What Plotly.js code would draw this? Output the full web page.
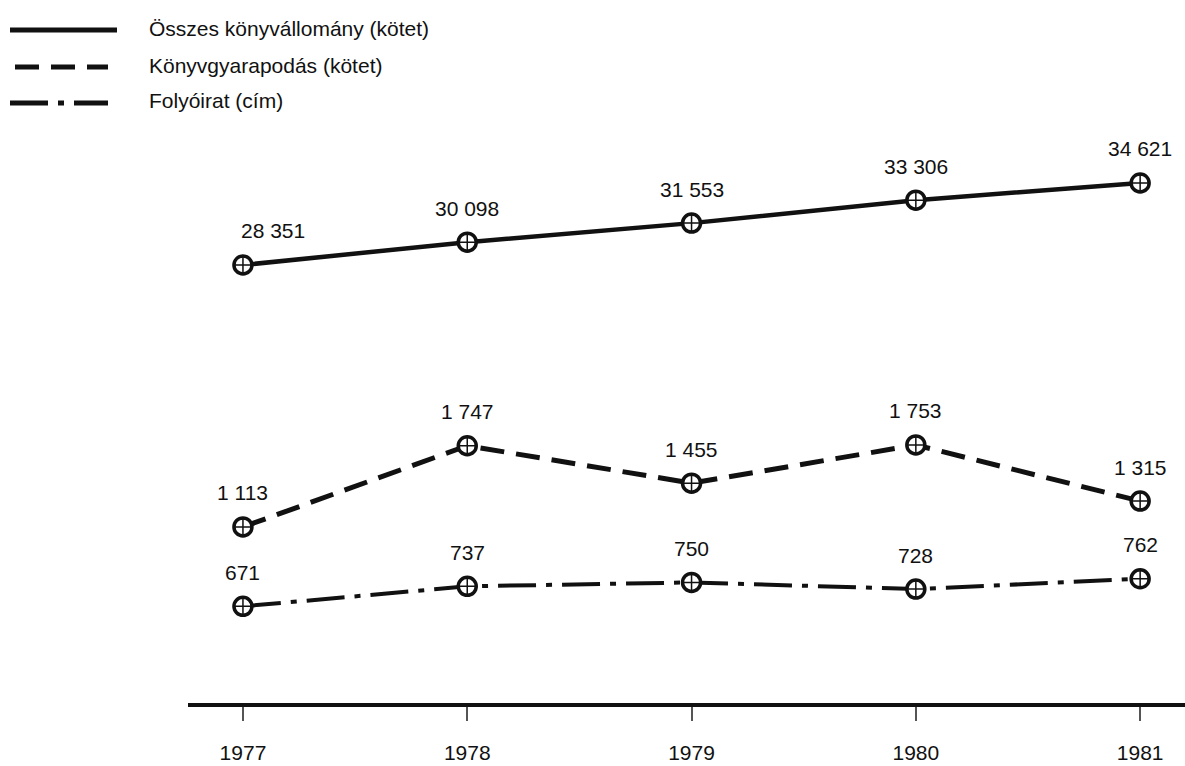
<!DOCTYPE html>
<html>
<head>
<meta charset="utf-8">
<script src="https://cdn.plot.ly/plotly-3.0.1.min.js"></script>
<style>html,body{margin:0;padding:0;background:#fff;}#chart{width:1185px;height:766px;}</style>
</head>
<body>
<div id="chart"></div>
<script>
const years = [1977, 1978, 1979, 1980, 1981];
const konyvallomany = [28351, 30098, 31553, 33306, 34621];
const gyarapodas = [1113, 1747, 1455, 1753, 1315];
const folyoirat = [671, 737, 750, 728, 762];
const seriesNames = ['Összes könyvállomány (kötet)', 'Könyvgyarapodás (kötet)', 'Folyóirat (cím)'];

const FONT = 'Liberation Sans, Arial, sans-serif';
const INK = '#111';
const dashes = ['solid', '24px,12px', '38px,10px,6px,10px'];
const widths = [4.5, 5, 4];
const axes = ['y', 'y2', 'y3'];
const series = [konyvallomany, gyarapodas, folyoirat];

const data = [];
series.forEach((vals, i) => {
  // line with ring markers
  data.push({
    x: years, y: vals, name: seriesNames[i], yaxis: axes[i], showlegend: false,
    type: 'scatter', mode: 'lines+markers',
    line: {color: INK, width: widths[i], dash: dashes[i]},
    marker: {symbol: 'circle', size: 18, color: '#fff', line: {width: 3.5, color: INK}},
    cliponaxis: false
  });
  // thin cross inside the rings
  data.push({
    x: years, y: vals, yaxis: axes[i], showlegend: false, hoverinfo: 'skip',
    type: 'scatter', mode: 'markers',
    marker: {symbol: 'cross-thin-open', size: 12, color: INK, line: {width: 1.5, color: INK}},
    cliponaxis: false
  });
});

// value labels
const annotations = [];
series.forEach((vals, i) => {
  vals.forEach((v, j) => {
    annotations.push({
      x: years[j], y: v, xref: 'x', yref: axes[i],
      text: v.toLocaleString('en-US').replace(/,/g, ' '),
      showarrow: false, yshift: 34, xshift: (i === 0 && j === 0) ? 30 : 0,
      font: {family: FONT, size: 21, color: INK}
    });
  });
});

// legend (drawn manually to match the original's layout)
const L = 188, W = 997, H = 703;
const px = v => (v - L) / W;
const py = v => (H - v) / H;
const legendRows = [30, 67, 103];
const legendLine = [[10, 117], [15, 108], [10, 108]];
const shapes = [];
seriesNames.forEach((name, i) => {
  shapes.push({
    type: 'line', xref: 'paper', yref: 'paper',
    x0: px(legendLine[i][0]), x1: px(legendLine[i][1]),
    y0: py(legendRows[i]), y1: py(legendRows[i]),
    line: {color: INK, width: 5, dash: dashes[i]}
  });
  annotations.push({
    xref: 'paper', yref: 'paper', x: px(147), y: py(legendRows[i] - 2),
    xanchor: 'left', yanchor: 'middle', showarrow: false,
    text: name, font: {family: FONT, size: 21, color: INK}
  });
});

const hidden = {showgrid: false, zeroline: false, showticklabels: false, ticks: '', showline: false, fixedrange: true};

const layout = {
  width: 1185, height: 766,
  margin: {l: 188, r: 0, t: 0, b: 63},
  paper_bgcolor: '#fff', plot_bgcolor: '#fff',
  font: {family: FONT, color: INK},
  showlegend: false,
  xaxis: {
    range: [1976.755, 1981.2], tickvals: years, ticktext: years.map(String),
    showgrid: false, zeroline: false, showline: true, linewidth: 3.5, linecolor: INK,
    ticks: 'outside', ticklen: 14, tickwidth: 2, tickcolor: '#555',
    ticklabelstandoff: 14,
    tickfont: {family: FONT, size: 21, color: INK}
  },
  yaxis: Object.assign({range: [-5140, 48613]}, hidden),
  yaxis2: Object.assign({range: [-261, 5226], overlaying: 'y'}, hidden),
  yaxis3: Object.assign({range: [352, 2672], overlaying: 'y'}, hidden),
  shapes: shapes,
  annotations: annotations
};

Plotly.newPlot('chart', data, layout, {displayModeBar: false, staticPlot: true});
</script>
</body>
</html>
